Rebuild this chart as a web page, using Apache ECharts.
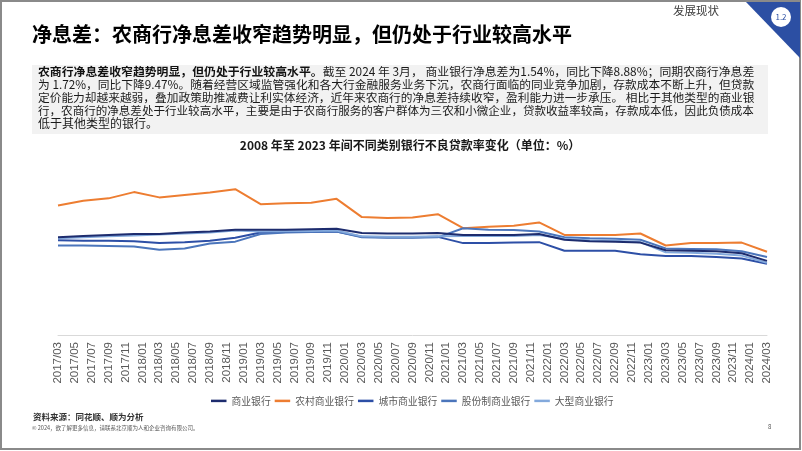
<!DOCTYPE html>
<html>
<head>
<meta charset="utf-8">
<script src="https://cdn.jsdelivr.net/npm/echarts@6/dist/echarts.min.js"></script>
<style>
html,body{margin:0;padding:0;background:#fff;}
#chart{width:802px;height:451px;}
</style>
</head>
<body>
<div id="chart"></div>
<script>
// ---- data ----
const quarters = ['2017/03','2017/06','2017/09','2017/12','2018/03','2018/06','2018/09','2018/12',
  '2019/03','2019/06','2019/09','2019/12','2020/03','2020/06','2020/09','2020/12',
  '2021/03','2021/06','2021/09','2021/12','2022/03','2022/06','2022/09','2022/12',
  '2023/03','2023/06','2023/09','2023/12','2024/03'];
const seriesNames = ['商业银行','农村商业银行','城市商业银行','股份制商业银行','大型商业银行'];
const commercial = [2.03,2.06,2.08,2.10,2.10,2.13,2.15,2.19,2.19,2.19,2.20,2.21,2.12,2.11,2.11,2.12,2.08,2.08,2.08,2.10,1.98,1.95,1.94,1.92,1.76,1.75,1.74,1.70,1.54];
const rural = [2.69,2.79,2.84,2.97,2.86,2.91,2.96,3.03,2.72,2.74,2.75,2.83,2.45,2.43,2.44,2.51,2.22,2.25,2.27,2.34,2.08,2.08,2.08,2.11,1.86,1.91,1.91,1.92,1.73];
const city = [1.97,1.96,1.96,1.95,1.91,1.93,1.96,2.02,2.13,2.14,2.14,2.15,2.04,2.03,2.03,2.04,1.91,1.91,1.92,1.93,1.75,1.75,1.75,1.68,1.64,1.64,1.62,1.59,1.48];
const jointStock = [1.86,1.86,1.85,1.84,1.77,1.80,1.90,1.94,2.10,2.13,2.14,2.15,2.03,2.02,2.02,2.03,2.22,2.19,2.18,2.15,2.03,2.01,2.00,1.98,1.80,1.79,1.78,1.74,1.62];
const large = [2.01,2.03,2.05,2.07,2.09,2.11,2.13,2.17,2.15,2.16,2.16,2.17,2.05,2.04,2.04,2.05,2.06,2.06,2.06,2.08,2.00,1.97,1.96,1.93,1.72,1.71,1.69,1.65,1.50];
const firstMonth = '2017/03', lastMonth = '2024/03';

const titleText = '净息差：农商行净息差收窄趋势明显，但仍处于行业较高水平';
const chartTitle = '2008 年至 2023 年间不同类别银行不良贷款率变化（单位：%）';
const paraBold = '农商行净息差收窄趋势明显，但仍处于行业较高水平。';
const paraLines = [
  '截至 2024 年 3月， 商业银行净息差为1.54%，同比下降8.88%；同期农商行净息差',
  '为 1.72%，同比下降9.47%。随着经营区域监管强化和各大行金融服务业务下沉，农商行面临的同业竞争加剧，存款成本不断上升，但贷款',
  '定价能力却越来越弱，叠加政策助推减费让利实体经济，近年来农商行的净息差持续收窄，盈利能力进一步承压。 相比于其他类型的商业银',
  '行，农商行的净息差处于行业较高水平，主要是由于农商行服务的客户群体为三农和小微企业，贷款收益率较高，存款成本低，因此负债成本',
  '低于其他类型的银行。'
];
const sourceText = '资料来源：同花顺、顺为分析';
const copyText = '© 2024，欲了解更多信息，请联系北京顺为人和企业咨询有限公司。';

// monthly category axis
const months = [];
(function(){
  let y = +firstMonth.slice(0,4), m = +firstMonth.slice(5);
  const ey = +lastMonth.slice(0,4), em = +lastMonth.slice(5);
  while (y < ey || (y === ey && m <= em)) {
    months.push(y + '/' + (m < 10 ? '0' + m : m));
    m++; if (m > 12) { m = 1; y++; }
  }
})();

const FONT = '"Noto Sans CJK SC", "Noto Sans", sans-serif';
const cv = document.createElement('canvas').getContext('2d');
function mw(t, size, bold) { cv.font = (bold ? 'bold ' : '') + size + 'px ' + FONT; return cv.measureText(t).width; }

const colors = ['#1d2c6e','#ED7D31','#2d4fa6','#4b75bb','#83a9dc'];
const values = [commercial, rural, city, jointStock, large];

const series = seriesNames.map((n, i) => ({
  name: n, type: 'line', symbol: 'none', smooth: false,
  connectNulls: true,
  z: i === 0 ? 5 : 3,
  lineStyle: { width: 2, color: colors[i] },
  itemStyle: { color: colors[i] },
  data: quarters.map((q, k) => [q, values[i][k]])
}));

// paragraph lines (justified by font size fitting)
const paraX = 38, paraW = 717, base = 12;
const graphics = [];
graphics.push({ type: 'rect', shape: { x: 1, y: 1, width: 799, height: 448 }, style: { fill: 'none', stroke: '#8a8a8a', lineWidth: 2 }, silent: true });
graphics.push({ type: 'polygon', shape: { points: [[746,2],[800,2],[800,58]] }, style: { fill: '#2c4fa3' } });
graphics.push({ type: 'circle', shape: { cx: 781, cy: 17, r: 10 }, style: { fill: '#ffffff' } });
graphics.push({ type: 'text', x: 781, y: 17, style: { text: '1.2', fill: '#2c4fa3', font: '8px ' + FONT, align: 'center', verticalAlign: 'middle' } });
graphics.push({ type: 'text', x: 673, y: 11, style: { text: '发展现状', fill: '#404040', font: '11.5px ' + FONT, verticalAlign: 'middle' } });
graphics.push({ type: 'text', x: 32, y: 34, style: { text: titleText, fill: '#000', font: 'bold 20px ' + FONT, verticalAlign: 'middle' } });
graphics.push({ type: 'rect', shape: { x: 32, y: 65, width: 736, height: 69 }, style: { fill: '#F2F2F2' } });
const lineY = [71.5, 84.5, 97.5, 110.5, 123];
paraLines.forEach((t, i) => {
  let w = mw(t, base, false) + (i === 0 ? mw(paraBold, base, true) : 0);
  let fs = i === paraLines.length - 1 ? base : base * paraW / w;
  fs = Math.max(10.5, Math.min(13, fs));
  const txt = i === 0 ? '{b|' + paraBold + '}{n|' + t + '}' : '{n|' + t + '}';
  graphics.push({ type: 'text', x: paraX, y: lineY[i], style: {
    text: txt, verticalAlign: 'middle',
    rich: { b: { fontWeight: 'bold', fontSize: fs, fontFamily: FONT, fill: '#111', color: '#111' },
            n: { fontSize: fs, fontFamily: FONT, fill: '#1a1a1a', color: '#1a1a1a' } } } });
});
graphics.push({ type: 'text', x: 410, y: 145, style: { text: chartTitle, fill: '#1a1a1a', font: 'bold 12px ' + FONT, align: 'center', verticalAlign: 'middle' } });
graphics.push({ type: 'text', x: 33, y: 416.5, style: { text: sourceText, fill: '#333', font: 'bold 8.5px ' + FONT, verticalAlign: 'middle' } });
graphics.push({ type: 'text', x: 32, y: 428, style: { text: copyText, fill: '#555', font: '5.5px ' + FONT, verticalAlign: 'middle' } });
graphics.push({ type: 'text', x: 768, y: 427, style: { text: '8', fill: '#555', font: '6px ' + FONT, verticalAlign: 'middle' } });

const chart = echarts.init(document.getElementById('chart'), null, { renderer: 'canvas' });
chart.setOption({
  animation: false,
  backgroundColor: '#fff',
  color: colors,
  grid: { left: 58, right: 35, top: 166.6, bottom: 116, containLabel: false },
  xAxis: {
    type: 'category', data: months, boundaryGap: false,
    axisLine: { show: true, lineStyle: { color: '#D9D9D9', width: 1 } },
    axisTick: { show: false },
    splitLine: { show: false },
    axisLabel: { interval: 1, rotate: 90, margin: 7, color: '#595959', fontSize: 11.5, fontFamily: '"Liberation Sans", Arial, sans-serif' }
  },
  yAxis: { type: 'value', min: 0, max: 3.5, show: false, splitLine: { show: false } },
  legend: {
    data: seriesNames, left: 211, top: 396, padding: 0, icon: 'rect', itemWidth: 15.5, itemHeight: 2.5, itemGap: 4,
    textStyle: { color: '#595959', fontSize: 9.8, fontFamily: FONT }
  },
  series: series,
  graphic: graphics
});
</script>
</body>
</html>
